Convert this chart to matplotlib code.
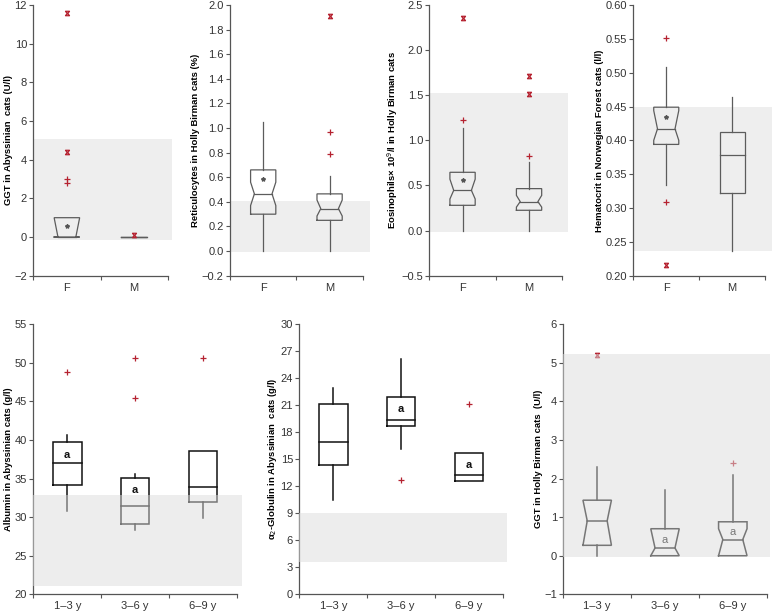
import matplotlib
matplotlib.use("Agg")
import matplotlib.pyplot as plt
from matplotlib.path import Path

plt.rcParams["font.family"] = ["Liberation Sans", "DejaVu Sans"]

W, H = 773, 614

# ---- values ----
sex_groups = ["F", "M"]
age_groups = ["1\u20133 y", "3\u20136 y", "6\u20139 y"]

# GGT, Abyssinian, by sex
ggt_aby_q1 = [0.0, 0.0]
ggt_aby_med = [0.0, 0.0]
ggt_aby_q3 = [1.0, 0.0]
ggt_aby_lo = [0.0, 0.0]
ggt_aby_hi = [1.0, 0.0]
ggt_aby_notch = [(0.0, 1.0), None]
ggt_aby_mean = [0.57, None]
ggt_aby_mild = [[3.0, 2.8], []]
ggt_aby_extreme = [[11.6, 4.4], [0.12]]
ggt_aby_ref = (-0.15, 5.05)

# reticulocytes, Holly Birman, by sex
retic_q1 = [0.30, 0.25]
retic_med = [0.465, 0.345]
retic_q3 = [0.66, 0.465]
retic_lo = [0.0, 0.0]
retic_hi = [1.05, 0.61]
retic_notch = [(0.37, 0.56), (0.285, 0.415)]
retic_mean = [0.585, None]
retic_mild = [[], [0.97, 0.79]]
retic_extreme = [[], [1.91]]
retic_ref = (-0.01, 0.405)

# eosinophils, Holly Birman, by sex
eos_q1 = [0.28, 0.225]
eos_med = [0.446, 0.321]
eos_q3 = [0.646, 0.465]
eos_lo = [0.0, 0.0]
eos_hi = [1.133, 0.764]
eos_notch = [(0.35, 0.57), (0.26, 0.39)]
eos_mean = [0.56, None]
eos_mild = [[1.22], [0.83]]
eos_extreme = [[2.36], [1.51, 1.71]]
eos_ref = (-0.02, 1.52)

# hematocrit, Norwegian Forest, by sex
hct_q1 = [0.394, 0.322]
hct_med = [0.417, 0.378]
hct_q3 = [0.449, 0.412]
hct_lo = [0.334, 0.237]
hct_hi = [0.508, 0.464]
hct_notch = [(0.40, 0.444), None]
hct_mean = [0.434, None]
hct_mild = [[0.551, 0.309], []]
hct_extreme = [[0.216], []]
hct_ref = (0.236, 0.450)

# albumin, Abyssinian, by age
alb_q1 = [34.2, 29.15, 32.0]
alb_med = [37.0, 31.4, 33.9]
alb_q3 = [39.7, 35.1, 38.6]
alb_lo = [30.8, 28.3, 29.9]
alb_hi = [40.7, 35.6, 38.6]
alb_letter = [38.0, 33.5, None]
alb_mild = [[48.8], [50.6, 45.5], [50.6]]
alb_ref = (21.1, 32.9)

# alpha2-globulin, Abyssinian, by age
a2g_q1 = [14.35, 18.7, 12.6]
a2g_med = [16.95, 19.4, 13.3]
a2g_q3 = [21.2, 21.9, 15.75]
a2g_lo = [10.45, 16.1, 12.6]
a2g_hi = [22.9, 26.2, 15.75]
a2g_letter = [None, 20.6, 14.35]
a2g_mild = [[], [12.7], [21.2]]
a2g_ref = (3.6, 9.0)

# GGT, Holly Birman, by age
ggt_bir_q1 = [0.27, 0.0, 0.0]
ggt_bir_med = [0.905, 0.2, 0.42]
ggt_bir_q3 = [1.44, 0.70, 0.88]
ggt_bir_lo = [0.0, 0.0, 0.0]
ggt_bir_hi = [2.30, 1.71, 2.10]
ggt_bir_notch = [(0.27, 1.44), (0.0, 0.70), (0.0, 0.70)]
ggt_bir_letter = [None, 0.42, 0.62]
ggt_bir_mild = [[], [], [2.4]]
ggt_bir_extreme = [[5.21], [], []]
ggt_bir_ref = (-0.03, 5.23)

RED = "#b52230"
# x-shaped marker with bars on top and bottom, as in the original
EXTREME = Path(
    [(-1, 1), (1, -1), (1, 1), (-1, -1), (-1, 1), (1, 1), (-1, -1), (1, -1)],
    [Path.MOVETO, Path.LINETO, Path.MOVETO, Path.LINETO,
     Path.MOVETO, Path.LINETO, Path.MOVETO, Path.LINETO],
)


def make_axes(fig, x0, band_right, spacing, top, bottom, ncat):
    ax = fig.add_axes([x0 / W, 1 - bottom / H, (band_right - x0) / W, (bottom - top) / H])
    ax.set_xlim(0.5, 0.5 + (band_right - x0) / spacing)
    ax.spines["top"].set_visible(False)
    ax.spines["right"].set_visible(False)
    for side in ("left", "bottom"):
        ax.spines[side].set_color("#555555")
        ax.spines[side].set_linewidth(0.9)
    ax.spines["bottom"].set_bounds(0.5, ncat + 0.5)
    ax.set_xticks([i + 0.5 for i in range(ncat + 1)])
    ax.set_xticklabels([])
    ax.tick_params(axis="both", direction="out", length=3, width=0.8, color="#555555",
                   labelsize=8, labelcolor="#333333", pad=1.5)
    return ax


def set_categories(ax, labels):
    ax.set_xticks(range(1, len(labels) + 1), minor=True)
    ax.set_xticklabels(labels, minor=True)
    ax.tick_params(axis="x", which="minor", length=0, labelsize=8, labelcolor="#333333", pad=5)


def draw_box(ax, x, q1, med, q3, lo, hi, notch, color, lw, width=0.4):
    half = width / 2
    inset = 0
    if notch is None:
        xs = [x - half, x + half, x + half, x - half, x - half]
        ys = [q1, q1, q3, q3, q1]
    else:
        inset = half * 0.3
        nlo, nhi = notch
        xs = [x - half, x - half, x - half + inset, x - half, x - half,
              x + half, x + half, x + half - inset, x + half, x + half, x - half]
        ys = [q1, nlo, med, nhi, q3, q3, nhi, med, nlo, q1, q1]
    ax.plot(xs, ys, color=color, lw=lw, zorder=3, solid_joinstyle="miter")
    ax.plot([x - half + inset, x + half - inset], [med, med], color=color, lw=lw, zorder=3)
    if hi > q3:
        ax.plot([x, x], [q3, hi], color=color, lw=lw, zorder=3)
    if lo < q1:
        ax.plot([x, x], [lo, q1], color=color, lw=lw, zorder=3)


def draw_outliers(ax, x, mild, extreme):
    if mild:
        ax.plot([x] * len(mild), mild, ls="none", marker="+", ms=5, mew=0.9, color=RED, zorder=4)
    if extreme:
        ax.plot([x] * len(extreme), extreme, ls="none", marker=EXTREME, ms=3.2, mew=0.9,
                color=RED, zorder=4)


fig = plt.figure(figsize=(W / 100, H / 100), dpi=100)

top_panels = [
    dict(x0=33.3, right=172, sp=67.2, ylim=(-2, 12), step=2, fmt="{:.0f}",
         label="GGT in Abyssinian  cats (U/l)",
         d=(ggt_aby_q1, ggt_aby_med, ggt_aby_q3, ggt_aby_lo, ggt_aby_hi, ggt_aby_notch,
            ggt_aby_mean, ggt_aby_mild, ggt_aby_extreme, ggt_aby_ref)),
    dict(x0=230, right=370, sp=66.4, ylim=(-0.2, 2.0), step=0.2, fmt="{:.1f}",
         label="Reticulocytes in Holly Birman cats (%)",
         d=(retic_q1, retic_med, retic_q3, retic_lo, retic_hi, retic_notch,
            retic_mean, retic_mild, retic_extreme, retic_ref)),
    dict(x0=429.3, right=568, sp=66.5, ylim=(-0.5, 2.5), step=0.5, fmt="{:.1f}",
         label="Eosinophils\u00d7 10$^{9}$/l in Holly Birman cats",
         d=(eos_q1, eos_med, eos_q3, eos_lo, eos_hi, eos_notch,
            eos_mean, eos_mild, eos_extreme, eos_ref)),
    dict(x0=633.3, right=772, sp=65.9, ylim=(0.2, 0.6), step=0.05, fmt="{:.2f}",
         label="Hematocrit in Norwegian Forest cats (l/l)",
         d=(hct_q1, hct_med, hct_q3, hct_lo, hct_hi, hct_notch,
            hct_mean, hct_mild, hct_extreme, hct_ref)),
]

for p in top_panels:
    ax = make_axes(fig, p["x0"], p["right"], p["sp"], 5, 275.7, 2)
    set_categories(ax, sex_groups)
    q1, med, q3, lo, hi, notch, mean, mild, extreme, ref = p["d"]
    lo_y, hi_y = p["ylim"]
    ax.set_ylim(lo_y, hi_y)
    n = int(round((hi_y - lo_y) / p["step"]))
    ticks = [lo_y + i * p["step"] for i in range(n + 1)]
    ax.set_yticks(ticks)
    ax.set_yticklabels([p["fmt"].format(t).replace("-", "\u2212") for t in ticks])
    ax.axhspan(ref[0], ref[1], color="#eeeeee", lw=0, zorder=0)
    for i in range(2):
        draw_box(ax, i + 1, q1[i], med[i], q3[i], lo[i], hi[i], notch[i], "#5c5c5c", 0.9, width=0.38)
        if mean[i] is not None:
            ax.plot(i + 1, mean[i], marker="*", ms=3, color="#555555", ls="none", zorder=4)
        draw_outliers(ax, i + 1, mild[i], extreme[i])
    ax.set_ylabel(p["label"], fontsize=6.8, fontweight="bold", labelpad=1)

bottom_panels = [
    dict(x0=33.3, right=242, sp=67.9, ylim=(20, 55), step=5,
         label="Albumin in Abyssinian cats (g/l)", bold=True,
         d=(alb_q1, alb_med, alb_q3, alb_lo, alb_hi, [None] * 3, alb_letter,
            alb_mild, [[], [], []], alb_ref)),
    dict(x0=299.3, right=507, sp=67.9, ylim=(0, 30), step=3,
         label="\u03b1$_{2}$-Globulin in Abyssinian  cats (g/l)", bold=True,
         d=(a2g_q1, a2g_med, a2g_q3, a2g_lo, a2g_hi, [None] * 3, a2g_letter,
            a2g_mild, [[], [], []], a2g_ref)),
    dict(x0=563.3, right=770, sp=67.8, ylim=(-1, 6), step=1,
         label="GGT in Holly Birman cats  (U/l)", bold=False,
         d=(ggt_bir_q1, ggt_bir_med, ggt_bir_q3, ggt_bir_lo, ggt_bir_hi, ggt_bir_notch,
            ggt_bir_letter, ggt_bir_mild, ggt_bir_extreme, ggt_bir_ref)),
]

for p in bottom_panels:
    ax = make_axes(fig, p["x0"], p["right"], p["sp"], 324.3, 594.3, 3)
    set_categories(ax, age_groups)
    q1, med, q3, lo, hi, notch, letter, mild, extreme, ref = p["d"]
    lo_y, hi_y = p["ylim"]
    ax.set_ylim(lo_y, hi_y)
    n = int(round((hi_y - lo_y) / p["step"]))
    ticks = [lo_y + i * p["step"] for i in range(n + 1)]
    ax.set_yticks(ticks)
    ax.set_yticklabels([f"{t:.0f}".replace("-", "\u2212") for t in ticks])
    # reference range laid over the boxes, as in the original
    ax.axhspan(ref[0], ref[1], color="#dcdcdc", alpha=0.5, lw=0, zorder=5)
    for i in range(3):
        draw_box(ax, i + 1, q1[i], med[i], q3[i], lo[i], hi[i], notch[i], "#111111", 1.1, width=0.42)
        if letter[i] is not None:
            ax.text(i + 1, letter[i], "a", ha="center", va="center", fontsize=8,
                    fontweight="bold" if p["bold"] else "normal", color="#111111", zorder=3)
        draw_outliers(ax, i + 1, mild[i], extreme[i])
    ax.set_ylabel(p["label"], fontsize=6.8, fontweight="bold", labelpad=1)

fig.savefig("out.png", dpi=100)
